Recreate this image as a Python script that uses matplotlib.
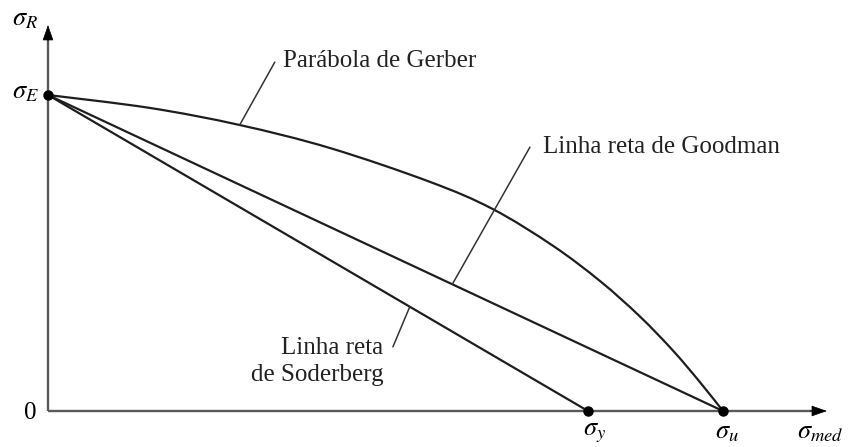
import numpy as np
import matplotlib
matplotlib.use("Agg")
import matplotlib.pyplot as plt
from matplotlib.path import Path
from matplotlib.patches import PathPatch

plt.rcParams['mathtext.fontset'] = 'stix'
plt.rcParams['font.family'] = ['Liberation Serif', 'DejaVu Serif']

# normalised stresses: sigma_E on the vertical axis, sigma_u on the horizontal
sigma_E = 1.0
sigma_u = 1.0
sigma_y = 0.8

# Gerber curve, points read along the drawn parabola
gerber_m = [0.0, 0.151, 0.284, 0.418, 0.566, 0.659, 0.748, 0.818, 0.877,
            0.926, 0.966, 1.0]
gerber_a = [1.0, 0.959, 0.905, 0.832, 0.725, 0.639, 0.523, 0.411, 0.299,
            0.191, 0.091, 0.0]

line_col = '#1e1e1e'
axis_col = '#5a5a5a'


def smooth_path(xs, ys):
    # cubic bezier segments through the points (catmull-rom tangents)
    pts = np.column_stack([xs, ys])
    verts = [pts[0]]
    codes = [Path.MOVETO]
    n = len(pts)
    for i in range(n - 1):
        p0 = pts[i - 1] if i > 0 else pts[i]
        p1 = pts[i]
        p2 = pts[i + 1]
        p3 = pts[i + 2] if i + 2 < n else pts[i + 1]
        c1 = p1 + (p2 - p0) / 6.0
        c2 = p2 - (p3 - p1) / 6.0
        verts += [c1, c2, p2]
        codes += [Path.CURVE4] * 3
    return Path(verts, codes)


fig = plt.figure(figsize=(8.49, 4.47), dpi=100)
ax = fig.add_axes([0, 0, 1, 1])
ax.set_xlim(-0.0711, 1.1867)
ax.set_ylim(-0.1139, 1.3006)
ax.axis('off')

# axes with arrow heads
x_end = 1.154
y_end = 1.2215
ax.plot([0, x_end - 0.02], [0, 0], color=axis_col, lw=1.7, solid_capstyle='butt', zorder=1)
ax.plot([0, 0], [0, y_end - 0.04], color=axis_col, lw=1.7, solid_capstyle='butt', zorder=1)
ax.annotate('', xy=(x_end, 0), xytext=(x_end - 0.025, 0),
            arrowprops=dict(arrowstyle='-|>,head_length=1.0,head_width=0.35',
                            color='black', lw=0.5, shrinkA=0, shrinkB=0))
ax.annotate('', xy=(0, y_end), xytext=(0, y_end - 0.05),
            arrowprops=dict(arrowstyle='-|>,head_length=1.0,head_width=0.35',
                            color='black', lw=0.5, shrinkA=0, shrinkB=0))

# failure lines
ax.add_patch(PathPatch(smooth_path(gerber_m, gerber_a), facecolor='none',
                       edgecolor=line_col, lw=1.6, zorder=2))
ax.plot([0, sigma_u], [sigma_E, 0], color=line_col, lw=1.6, zorder=2)
ax.plot([0, sigma_y], [sigma_E, 0], color=line_col, lw=1.6, zorder=2)
ax.plot([0, sigma_y, sigma_u], [sigma_E, 0, 0], 'o', color='black', ms=6.5, zorder=3)

# labels with leader lines
fs = 18
txt_col = '#222222'
lead = dict(arrowstyle='-', color='#333333', lw=1.1, shrinkA=0, shrinkB=0)
ax.annotate('', xy=(0.284, 0.905), xytext=(0.336, 1.104), arrowprops=lead)
ax.text(0.348, 1.108, 'Parábola de Gerber', fontsize=fs, ha='left', va='center', color=txt_col)

good_x = 0.599
ax.annotate('', xy=(good_x, sigma_E * (1 - good_x / sigma_u)), xytext=(0.714, 0.835), arrowprops=lead)
ax.text(0.733, 0.835, 'Linha reta de Goodman', fontsize=fs, ha='left', va='center', color=txt_col)

sod_x = 0.536
ax.annotate('', xy=(sod_x, sigma_E * (1 - sod_x / sigma_y)), xytext=(0.511, 0.203), arrowprops=lead)
ax.text(0.497, 0.158, 'Linha reta\nde Soderberg', fontsize=fs, ha='right', va='center',
        multialignment='right', linespacing=1.3, color=txt_col)

# stress symbols
sfs = 19
ax.text(-0.034, 1.237, r'$\sigma_R$', fontsize=sfs, ha='center', va='center')
ax.text(-0.034, 1.006, r'$\sigma_E$', fontsize=sfs, ha='center', va='center')
ax.text(-0.027, -0.006, '0', fontsize=fs, ha='center', va='center')
ax.text(sigma_y + 0.01, -0.07, r'$\sigma_y$', fontsize=sfs, ha='center', va='center')
ax.text(sigma_u + 0.006, -0.07, r'$\sigma_u$', fontsize=sfs, ha='center', va='center')
ax.text(1.110, -0.07, r'$\sigma_{med}$', fontsize=sfs, ha='left', va='center')

fig.savefig('out.png', dpi=100)
